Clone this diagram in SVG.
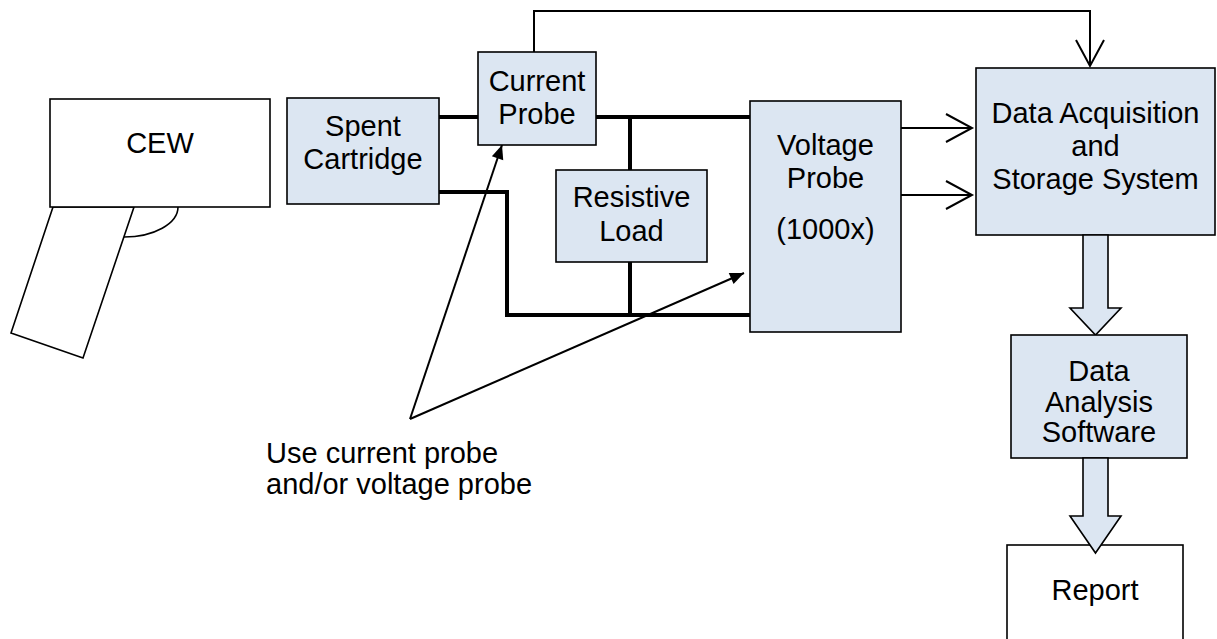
<svg xmlns="http://www.w3.org/2000/svg" width="1217" height="639" viewBox="0 0 1217 639">
<style>
.box{fill:#dce6f2;stroke:#000;stroke-width:1.6}
.wbox{fill:#fff;stroke:#000;stroke-width:1.6}
.t{font-family:"Liberation Sans",Arial,sans-serif;font-size:29px;fill:#000;text-anchor:middle}
.tl{font-family:"Liberation Sans",Arial,sans-serif;font-size:29px;fill:#000}
.wire{fill:none;stroke:#000;stroke-width:4}
.thin{fill:none;stroke:#000;stroke-width:2}
</style>
<defs>
<marker id="open" markerUnits="userSpaceOnUse" markerWidth="40" markerHeight="40" refX="0" refY="0" orient="auto" overflow="visible" viewBox="-30 -20 40 40">
<path d="M-26,-14 L0,0 L-26,14" fill="none" stroke="#000" stroke-width="2"/>
</marker>
<marker id="fill" markerUnits="userSpaceOnUse" markerWidth="30" markerHeight="30" refX="0" refY="0" orient="auto" overflow="visible" viewBox="-20 -15 30 30">
<path d="M-14,-6 L0,0 L-14,6 Z" fill="#000"/>
</marker>
</defs>
<g id="cew">
<polygon class="wbox" points="53,207 11,333 83,358 134,207"/>
<path d="M178,207 A54,30 0 0 1 124,237" fill="none" stroke="#000" stroke-width="1.6"/>
<rect class="wbox" x="50" y="99" width="220" height="108"/>
<text class="t" x="160" y="153">CEW</text>
</g>
<g id="connectors">
<polyline class="wire" points="439,117 478,117"/>
<polyline class="wire" points="596,117 750,117"/>
<polyline class="wire" points="630,117 630,170"/>
<polyline class="wire" points="630,262 630,315"/>
<polyline class="wire" points="439,192 507,192 507,315 750,315"/>
<polyline class="thin" points="534,52 534,11 1090,11 1090,66" marker-end="url(#open)"/>
<line class="thin" x1="901" y1="128" x2="972" y2="128" marker-end="url(#open)"/>
<line class="thin" x1="901" y1="195" x2="972" y2="195" marker-end="url(#open)"/>
<line class="thin" x1="410" y1="419" x2="502" y2="145" marker-end="url(#fill)"/>
<line class="thin" x1="410" y1="419" x2="744" y2="273" marker-end="url(#fill)"/>
</g>
<g id="spent">
<rect class="box" x="287" y="98" width="152" height="106"/>
<text class="t" x="363" y="136">Spent</text>
<text class="t" x="363" y="169">Cartridge</text>
</g>
<g id="current">
<rect class="box" x="478" y="52" width="118" height="93"/>
<text class="t" x="537" y="91">Current</text>
<text class="t" x="537" y="124">Probe</text>
</g>
<g id="load">
<rect class="box" x="556" y="170" width="151" height="92"/>
<text class="t" x="631.5" y="207">Resistive</text>
<text class="t" x="631.5" y="241">Load</text>
</g>
<g id="voltage">
<rect class="box" x="750" y="101" width="151" height="231"/>
<text class="t" x="825.5" y="155">Voltage</text>
<text class="t" x="825.5" y="188">Probe</text>
<text class="t" x="825.5" y="239">(1000x)</text>
</g>
<g id="daq">
<rect class="box" x="976" y="68" width="239" height="167"/>
<text class="t" x="1095.5" y="123">Data Acquisition</text>
<text class="t" x="1095.5" y="156">and</text>
<text class="t" x="1095.5" y="189">Storage System</text>
</g>
<g id="arrow1">
<polygon class="box" points="1083,235 1108,235 1108,308 1121,308 1095.5,335 1070,308 1083,308"/>
</g>
<g id="analysis">
<rect class="box" x="1011" y="335" width="176" height="123"/>
<text class="t" x="1099" y="381">Data</text>
<text class="t" x="1099" y="412">Analysis</text>
<text class="t" x="1099" y="442">Software</text>
</g>
<g id="report">
<rect class="wbox" x="1007" y="545" width="176" height="110"/>
<text class="t" x="1095" y="600">Report</text>
</g>
<g id="arrow2">
<polygon class="box" points="1083,458 1108,458 1108,516 1121,516 1095.5,553 1070,516 1083,516"/>
</g>
<g id="label">
<text class="tl" x="266" y="463">Use current probe</text>
<text class="tl" x="266" y="494">and/or voltage probe</text>
</g>
</svg>
